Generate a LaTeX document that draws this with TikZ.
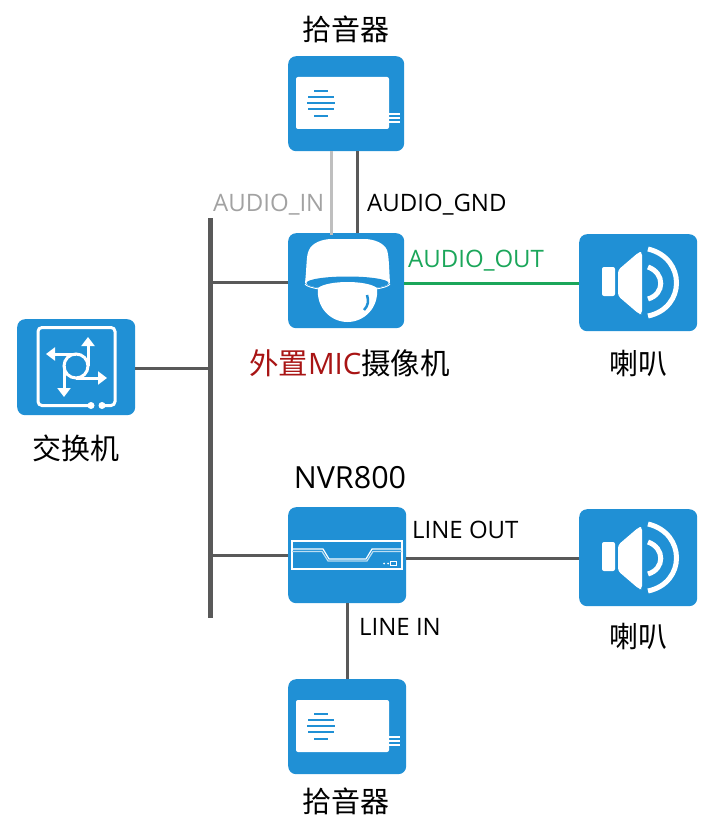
\documentclass[tikz,border=0pt]{standalone}
\usepackage{fontspec}
\setmainfont{Open Sans}
\newfontfamily\cjk{Noto Sans CJK SC}
\usetikzlibrary{arrows.meta}
\definecolor{boxblue}{HTML}{2090D5}
\definecolor{wireGray}{HTML}{595959}
\definecolor{lightWire}{HTML}{BFBFBF}
\definecolor{greenWire}{HTML}{1BA65A}
\definecolor{micRed}{HTML}{A81414}
\tikzset{
 devbox/.style={fill=boxblue,rounded corners=8pt,inner sep=0pt,minimum width=#1,minimum height=95pt,anchor=north west},
 devbox/.default=116pt,
 wire/.style={draw=wireGray,line width=3pt},
 ico/.style={draw=white,line width=3pt},
 thin ico/.style={draw=white,line width=1.2pt},
 lab/.style={font=\fontsize{24}{27}\selectfont,inner sep=0pt},
 captext/.style={font=\cjk\fontsize{29}{32}\selectfont,inner sep=0pt},
 arrowhd/.style={-{Triangle[length=9pt,width=13pt]}},
 pickup/.pic={
  \fill[white,rounded corners=2pt] (8,21) rectangle (101,73);
  \foreach \yy/\hw in {35/7,41/13,47/14,53/13,60/7}
   \draw[boxblue,line width=1.2pt] (33-\hw,\yy)--(33+\hw,\yy);
  \foreach \yy in {58,62,66} \draw[thin ico] (101,\yy)--(112,\yy);
 },
 speaker/.pic={
  \fill[white,rounded corners=2pt] (23,33) rectangle (36,62);
  \fill[white,rounded corners=3pt] (39,36) -- (60,18) -- (63,18) -- (63,80) -- (60,80) -- (39,62) -- cycle;
  \draw[white,line width=5pt] (69,33) .. controls (86,39) and (86,60) .. (69,65);
  \draw[white,line width=5pt] (69,15) .. controls (107,24) and (107,74) .. (69,82);
 }
}
\begin{document}
\begin{tikzpicture}[x=1pt,y=-1pt]
\useasboundingbox (0,0) rectangle (714,837);
% devices
\node[devbox] (pickA) at (288,56) {};
\node[devbox] (cam) at (288,233) {};
\node[devbox=118pt,minimum height=96pt] (sw) at (17,319) {};
\node[devbox=118pt,minimum height=97pt] (spkA) at (579,234) {};
\node[devbox=118pt,minimum height=96pt] (nvr) at (288,507) {};
\node[devbox=118pt,minimum height=97pt] (spkB) at (579,509) {};
\node[devbox=118pt] (pickB) at (288,679) {};
\node[fill=wireGray,inner sep=0pt,minimum width=4.5pt,minimum height=400pt,anchor=north] (bus) at (210.5,218) {};
% connectors
\draw[draw=lightWire,line width=3pt] ([xshift=-15pt]pickA.south) -- ([xshift=-15pt,yshift=-2pt]cam.north);
\draw[wire] ([xshift=11pt]pickA.south) -- ([xshift=11pt]cam.north);
\draw[wire] ([yshift=-1.5pt]cam.west) -- ([yshift=-1.5pt]cam.west -| bus.center);
\draw[wire] ([yshift=-1pt]sw.east) -- ([yshift=-1pt]sw.east -| bus.center);
\draw[wire] (nvr.west) -- (nvr.west -| bus.center);
\draw[draw=greenWire,line width=3pt] ([yshift=-2.5pt]cam.east) -- ([yshift=-2.5pt]cam.east -| spkA.west);
\draw[wire] ([yshift=-3pt]nvr.east) -- ([yshift=-3pt]nvr.east -| spkB.west);
\draw[wire] (nvr.south) -- (pickB.north);
% icons
\pic at (288,56) {pickup};
\pic at (288,679) {pickup};
\pic at (579,234) {speaker};
\pic at (579,509) {speaker};
% camera
\fill[white] (305,283) .. controls (307,265) and (306,256) .. (309,250) .. controls (312,243) and (322,239) .. (332,239) -- (364,239) .. controls (374,239) and (384,243) .. (387,250) .. controls (389,256) and (389,268) .. (390,283) .. controls (380,292) and (315,292) .. (305,283) -- cycle;
\fill[boxblue] (347.5,283) ellipse (41pt and 6.5pt);
\draw[white,line width=.9pt] (305,284) .. controls (310,293) and (385,293) .. (390,284);
\fill[white] (318,288) .. controls (328,280) and (367,280) .. (377,288) .. controls (379,308) and (364,322) .. (347.5,322) .. controls (331,322) and (316,308) .. (318,288) -- cycle;
\draw[boxblue,line width=2.5pt] (367,295) .. controls (369,301) and (368,306) .. (364,310);
% switch
\draw[ico,rounded corners=4pt] (89,405.5) -- (38,405.5) -- (38,327.5) -- (115,327.5) -- (115,405.5) -- (104,405.5);
\fill[white] (91,405.5) circle (3.5pt) (102,405.5) circle (3.5pt);
\draw[ico] (76,366) circle (12pt);
\draw[ico,arrowhd] (88,366) -- (88,337);
\draw[ico,arrowhd] (76,354) -- (46,354);
\draw[ico,arrowhd] (76,378) -- (107,378);
\draw[ico,arrowhd] (64,366) -- (64,397);
% NVR
\draw[thin ico] (292,541) rectangle (402,569);
\draw[draw=white,line width=1.2pt] (292,549) -- (323,549) -- (329,559) -- (366,559) -- (372,549) -- (402,549);
\draw[draw=white!70!boxblue,line width=1.2pt] (292,551.5) -- (322,551.5) -- (328,561) -- (367,561) -- (373,551.5) -- (402,551.5);
\fill[white] (384,563.5) circle (1pt) (388,563.5) circle (1pt);
\draw[white,line width=1pt] (390.5,561.5) rectangle (396.5,565.5);
% text
\node[captext] (tA) at (346,29) {拾音器};
\node[lab,text=lightWire!85!black,anchor=west] (tIn) at (213,205) {AUDIO\_IN};
\node[lab,anchor=west] (tGnd) at (367,205) {AUDIO\_GND};
\node[lab,text=greenWire,anchor=west] (tOut) at (408,261) {AUDIO\_OUT};
\node[font=\fontsize{29.5}{32}\selectfont,inner sep=0pt] (tCam) at (349.5,363) {{\cjk\color{micRed}外置}{\color{micRed}MIC}{\cjk 摄像机}};
\node[captext] (tSpkA) at (638,364) {喇叭};
\node[captext] (tSw) at (76,448) {交换机};
\node[font=\fontsize{30.5}{33}\selectfont,inner sep=0pt] (tNvr) at (350,478) {NVR800};
\node[lab,anchor=west] (tLo) at (412,530) {LINE OUT};
\node[lab,anchor=west] (tLi) at (359,627) {LINE IN};
\node[captext] (tSpkB) at (638,637) {喇叭};
\node[captext] (tB) at (346,801) {拾音器};
\end{tikzpicture}
\end{document}
